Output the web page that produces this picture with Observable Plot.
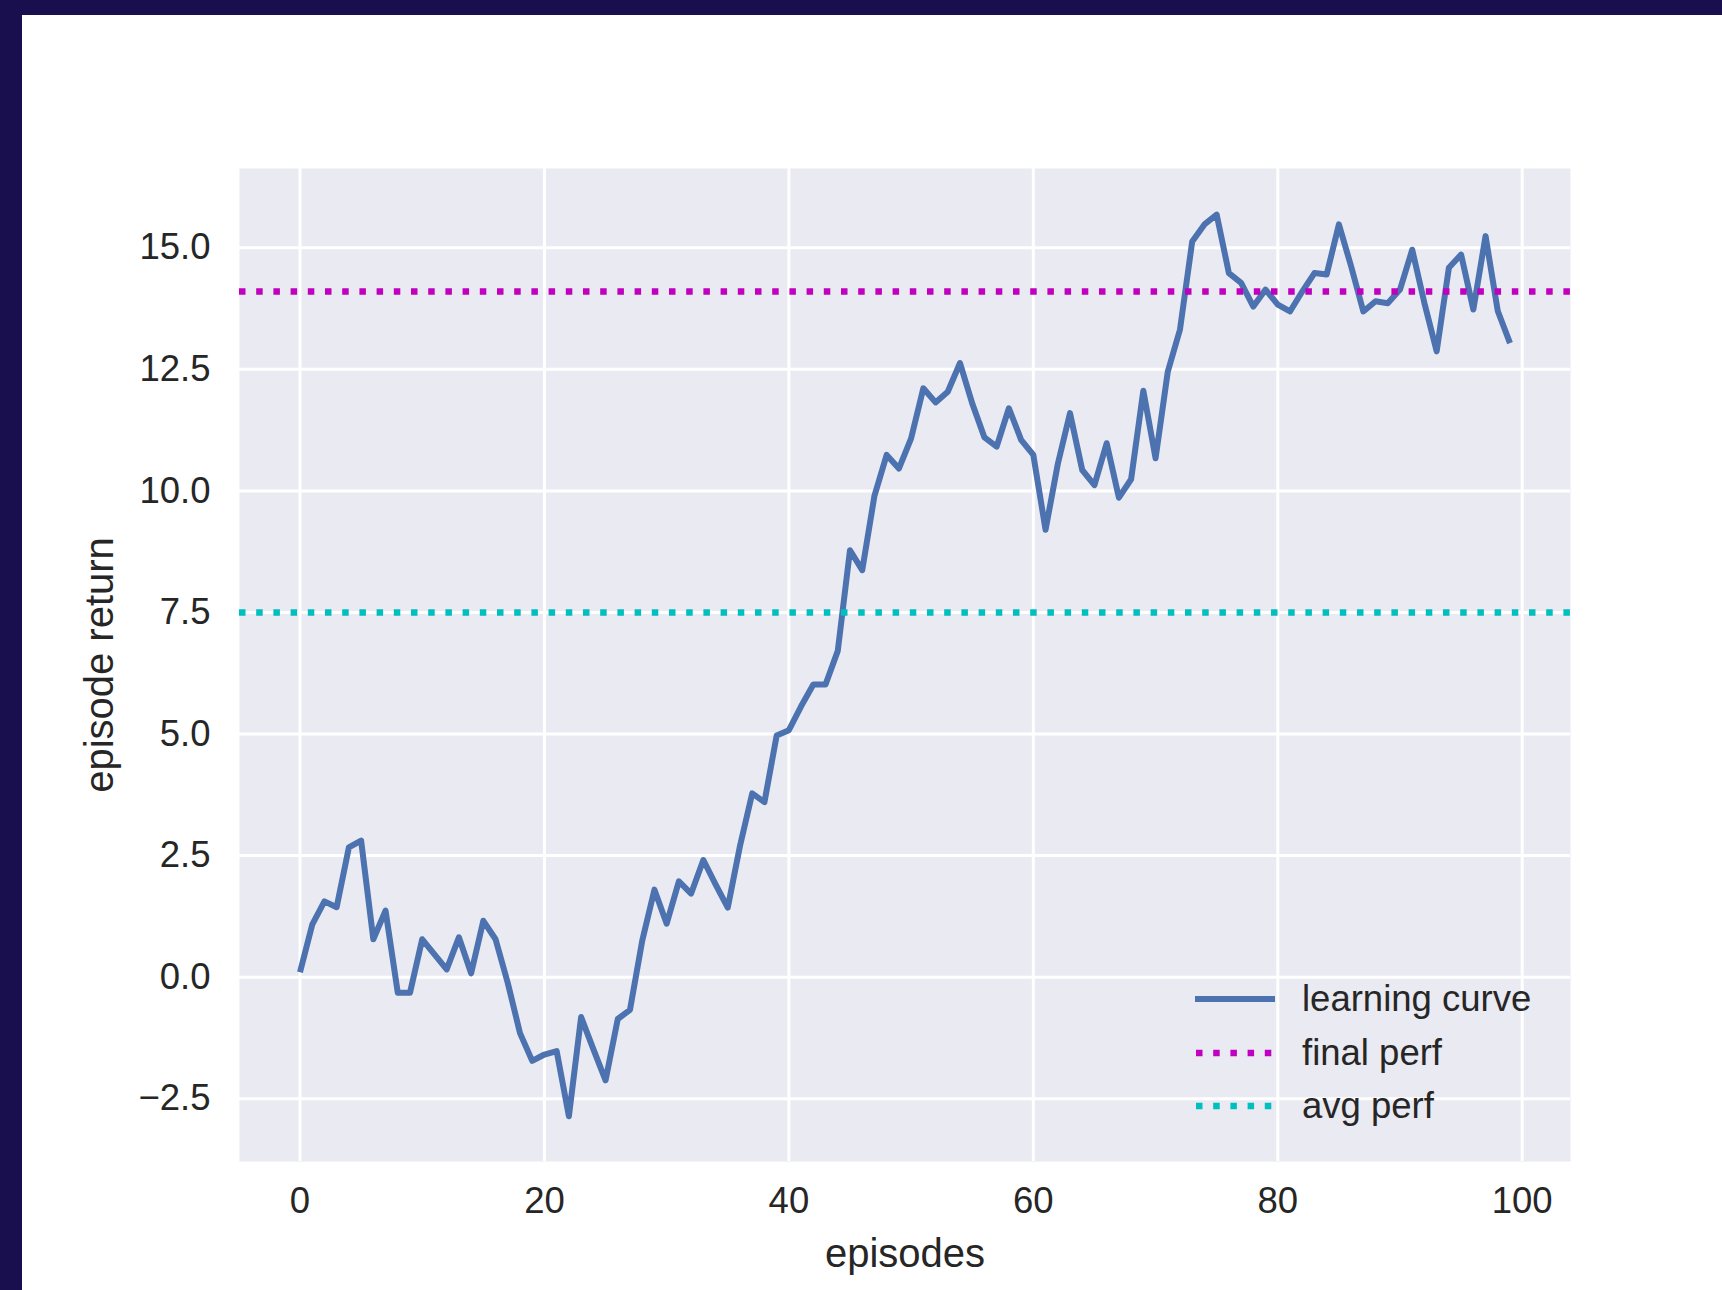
<!DOCTYPE html>
<html>
<head>
<meta charset="utf-8">
<script src="https://cdn.jsdelivr.net/npm/d3@7"></script>
<script src="https://cdn.jsdelivr.net/npm/@observablehq/plot@0.6"></script>
<style>
  html, body { margin: 0; padding: 0; background: #1a0f4e; width: 1722px; height: 1290px; overflow: hidden; }
  #card { position: absolute; left: 22px; top: 15px; width: 1700px; height: 1275px; background: #ffffff; font-family: "Liberation Sans", Arial, sans-serif; }
  #card svg [aria-label="x-axis label"], #card svg [aria-label="y-axis label"] { font-size: 40px; }
  #legend { position: absolute; left: 1173px; top: 957px; font-size: 36.5px; color: #262626; }
  .row { display: flex; align-items: center; height: 53.7px; }
  .row svg { width: 80px; height: 20px; margin-right: 27px; }
</style>
</head>
<body>
<div id="card"><div id="chart"></div><div id="legend"></div></div>
<script>
// ---- data ----
const episodes = d3.range(0, 100);
const returns = [
  0.10, 1.08, 1.56, 1.44, 2.67, 2.81, 0.78, 1.37, -0.32, -0.32,
  0.78, 0.47, 0.16, 0.82, 0.08, 1.16, 0.78, -0.12, -1.15, -1.72,
  -1.59, -1.52, -2.86, -0.82, -1.48, -2.12, -0.86, -0.67, 0.75, 1.80,
  1.10, 1.97, 1.72, 2.41, 1.91, 1.43, 2.70, 3.78, 3.60, 4.97,
  5.08, 5.57, 6.02, 6.02, 6.71, 8.78, 8.37, 9.90, 10.74, 10.46,
  11.08, 12.11, 11.82, 12.04, 12.63, 11.80, 11.10, 10.91, 11.70, 11.05,
  10.74, 9.20, 10.55, 11.60, 10.43, 10.12, 10.98, 9.86, 10.24, 12.06,
  10.67, 12.45, 13.32, 15.13, 15.48, 15.68, 14.48, 14.28, 13.79, 14.14,
  13.83, 13.69, 14.10, 14.48, 14.45, 15.48, 14.62, 13.69, 13.90, 13.86,
  14.14, 14.96, 13.86, 12.87, 14.59, 14.86, 13.73, 15.24, 13.70, 13.04
];
const finalPerf = 14.10;
const avgPerf = 7.50;
const xTicks = [0, 20, 40, 60, 80, 100];
const yTicks = [-2.5, 0, 2.5, 5, 7.5, 10, 12.5, 15];
const seriesNames = ["learning curve", "final perf", "avg perf"];
const seriesColors = ["#4c72b0", "#bf00bf", "#00bfbf"];

const curve = episodes.map((e, i) => ({episode: e, ret: returns[i]}));
const dots = "6.5,10.7";

const chart = Plot.plot({
  width: 1700,
  height: 1275,
  marginLeft: 217,
  marginRight: 152,
  marginTop: 153,
  marginBottom: 129,
  style: {fontFamily: "'Liberation Sans', Arial, sans-serif", fontSize: "36.5px", color: "#262626", background: "transparent", overflow: "visible"},
  x: {domain: [-4.95, 103.95], ticks: xTicks, tickSize: 0, tickPadding: 26, label: "episodes", labelAnchor: "center", labelArrow: "none", labelOffset: 105},
  y: {domain: [-3.79, 16.63], ticks: yTicks, tickSize: 0, tickPadding: 29, tickFormat: d => d.toFixed(1).replace("-", "\u2212"), label: "episode return", labelAnchor: "center", labelArrow: "none", labelOffset: 155},
  marks: [
    Plot.frame({fill: "#eaeaf2", stroke: null}),
    Plot.gridX(xTicks, {stroke: "#ffffff", strokeOpacity: 1, strokeWidth: 3}),
    Plot.gridY(yTicks, {stroke: "#ffffff", strokeOpacity: 1, strokeWidth: 3}),
    Plot.line(curve, {x: "episode", y: "ret", stroke: seriesColors[0], strokeWidth: 6, strokeLinejoin: "round", strokeLinecap: "butt"}),
    Plot.ruleY([finalPerf], {stroke: seriesColors[1], strokeWidth: 6.5, strokeDasharray: dots}),
    Plot.ruleY([avgPerf], {stroke: seriesColors[2], strokeWidth: 6.5, strokeDasharray: dots})
  ]
});
document.getElementById("chart").appendChild(chart);

// legend
const legend = d3.select("#legend");
seriesNames.forEach((name, i) => {
  const row = legend.append("div").attr("class", "row");
  const s = row.append("svg").attr("viewBox", "0 0 80 20");
  const ln = s.append("line").attr("x1", 1).attr("x2", 79).attr("y1", 10).attr("y2", 10)
    .attr("stroke", seriesColors[i]).attr("stroke-width", i === 0 ? 6 : 6.5);
  if (i === 0) ln.attr("stroke-linecap", "round");
  else ln.attr("stroke-dasharray", dots);
  row.append("span").text(name);
});
</script>
</body>
</html>
